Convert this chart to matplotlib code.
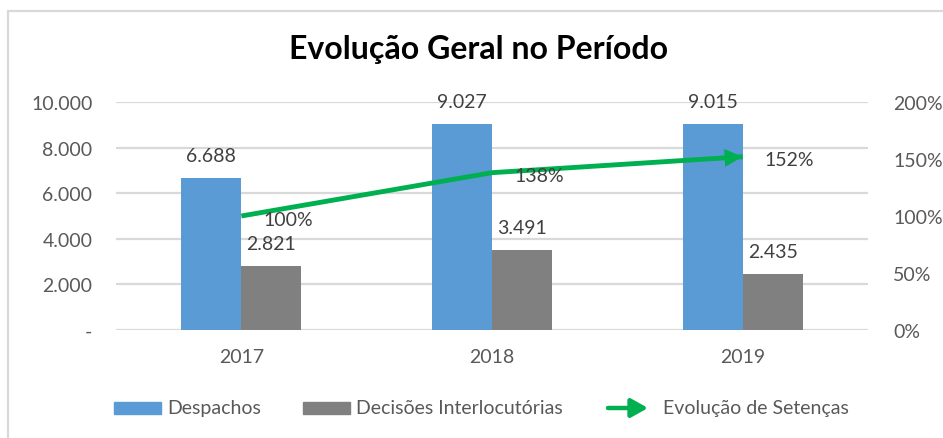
import matplotlib
matplotlib.use("Agg")
import matplotlib.pyplot as plt
from matplotlib.patches import Rectangle, FancyArrowPatch
from matplotlib.ticker import FixedLocator

plt.rcParams['font.family'] = ['Lato', 'DejaVu Sans']

# Data
years = ["2017", "2018", "2019"]
despachos = [6688, 9027, 9015]
decisoes = [2821, 3491, 2435]
evolucao = [100, 138, 152]

left_ticks = [0, 2000, 4000, 6000, 8000, 10000]
left_labels = ["-", "2.000", "4.000", "6.000", "8.000", "10.000"]
right_ticks = [0, 50, 100, 150, 200]
right_labels = ["0%", "50%", "100%", "150%", "200%"]

BLUE = "#5B9BD5"
GRAY = "#808080"
GREEN = "#00B050"
TXT = "#595959"
LBL = "#404040"
GRID = "#D9D9D9"
FS = 14

W, H = 943, 439
fig = plt.figure(figsize=(W / 100, H / 100), dpi=100)
fig.patch.set_facecolor("white")

# outer frame of the chart area
fig.patches.append(Rectangle((8 / W, -0.05), 1.2, 1 - 12 / H + 0.05,
                             transform=fig.transFigure, fill=False,
                             edgecolor=GRID, lw=1.6))

ax = fig.add_axes([116 / W, 1 - 331 / H, 752 / W, 228 / H])
ax2 = ax.twinx()

x = list(range(len(years)))
bw = 0.24
ax.bar([i - bw / 2 for i in x], despachos, width=bw, color=BLUE, zorder=2)
ax.bar([i + bw / 2 for i in x], decisoes, width=bw, color=GRAY, zorder=2)

ax.set_xlim(-0.5, 2.5)
ax.set_ylim(0, 10000)
ax2.set_ylim(0, 200)

ax.yaxis.set_major_locator(FixedLocator(left_ticks))
ax.set_yticklabels(left_labels)
ax2.yaxis.set_major_locator(FixedLocator(right_ticks))
ax2.set_yticklabels(right_labels)
ax.set_xticks(x)
ax.set_xticklabels(years)

for a in (ax, ax2):
    for s in a.spines.values():
        s.set_visible(False)
    a.tick_params(length=0, labelsize=FS, colors=TXT)
ax.tick_params(axis='y', pad=17)
ax2.tick_params(axis='y', pad=18)
ax.tick_params(axis='x', pad=13)

ax.grid(axis='y', color=GRID, lw=1.6, zorder=0)
ax.set_axisbelow(True)

# bar value labels
for vals, off in ((despachos, -bw / 2), (decisoes, bw / 2)):
    for i, v in enumerate(vals):
        ax.annotate(f"{v:,}".replace(",", "."), (i + off, v),
                    xytext=(0, 14), textcoords="offset pixels",
                    ha="center", va="bottom", fontsize=FS, color=LBL)

# evolution line with arrow head on the last point
ax2.plot(x, evolucao, color=GREEN, lw=3.5, solid_capstyle="butt", zorder=4)
arrow = FancyArrowPatch((x[-2], evolucao[-2]), (x[-1], evolucao[-1]),
                        arrowstyle="-|>,head_length=0.65,head_width=0.32",
                        mutation_scale=20, color=GREEN, lw=0,
                        shrinkA=0, shrinkB=0, zorder=5,
                        transform=ax2.transData)
ax2.add_patch(arrow)
for i, v in enumerate(evolucao):
    ax2.annotate(f"{v}%", (i, v), xytext=(22, -3), textcoords="offset pixels",
                 ha="left", va="center", fontsize=FS, color=LBL, zorder=6)

# title
fig.text(479 / W, 1 - 50 / H, "Evolução Geral no Período", ha="center",
         va="center", fontsize=23, fontweight="bold", color="black")

# legend
ly = 1 - 409 / H
ph = 12 / H
fig.patches.append(Rectangle((114 / W, ly - ph / 2), 47 / W, ph,
                             transform=fig.transFigure, color=BLUE))
fig.text(167 / W, ly, "Despachos", ha="left", va="center", fontsize=FS, color=TXT)
fig.patches.append(Rectangle((303 / W, ly - ph / 2), 47 / W, ph,
                             transform=fig.transFigure, color=GRAY))
fig.text(356 / W, ly, "Decisões Interlocutórias", ha="left", va="center",
         fontsize=FS, color=TXT)
fig.patches.append(FancyArrowPatch((608 / W, ly), (648 / W, ly),
                                   arrowstyle="-|>,head_length=0.5,head_width=0.28",
                                   mutation_scale=20, color=GREEN, lw=3.2,
                                   shrinkA=0, shrinkB=0,
                                   transform=fig.transFigure))
fig.text(663 / W, ly, "Evolução de Setenças", ha="left", va="center",
         fontsize=FS, color=TXT)

fig.savefig("out.png", dpi=100, facecolor="white")
